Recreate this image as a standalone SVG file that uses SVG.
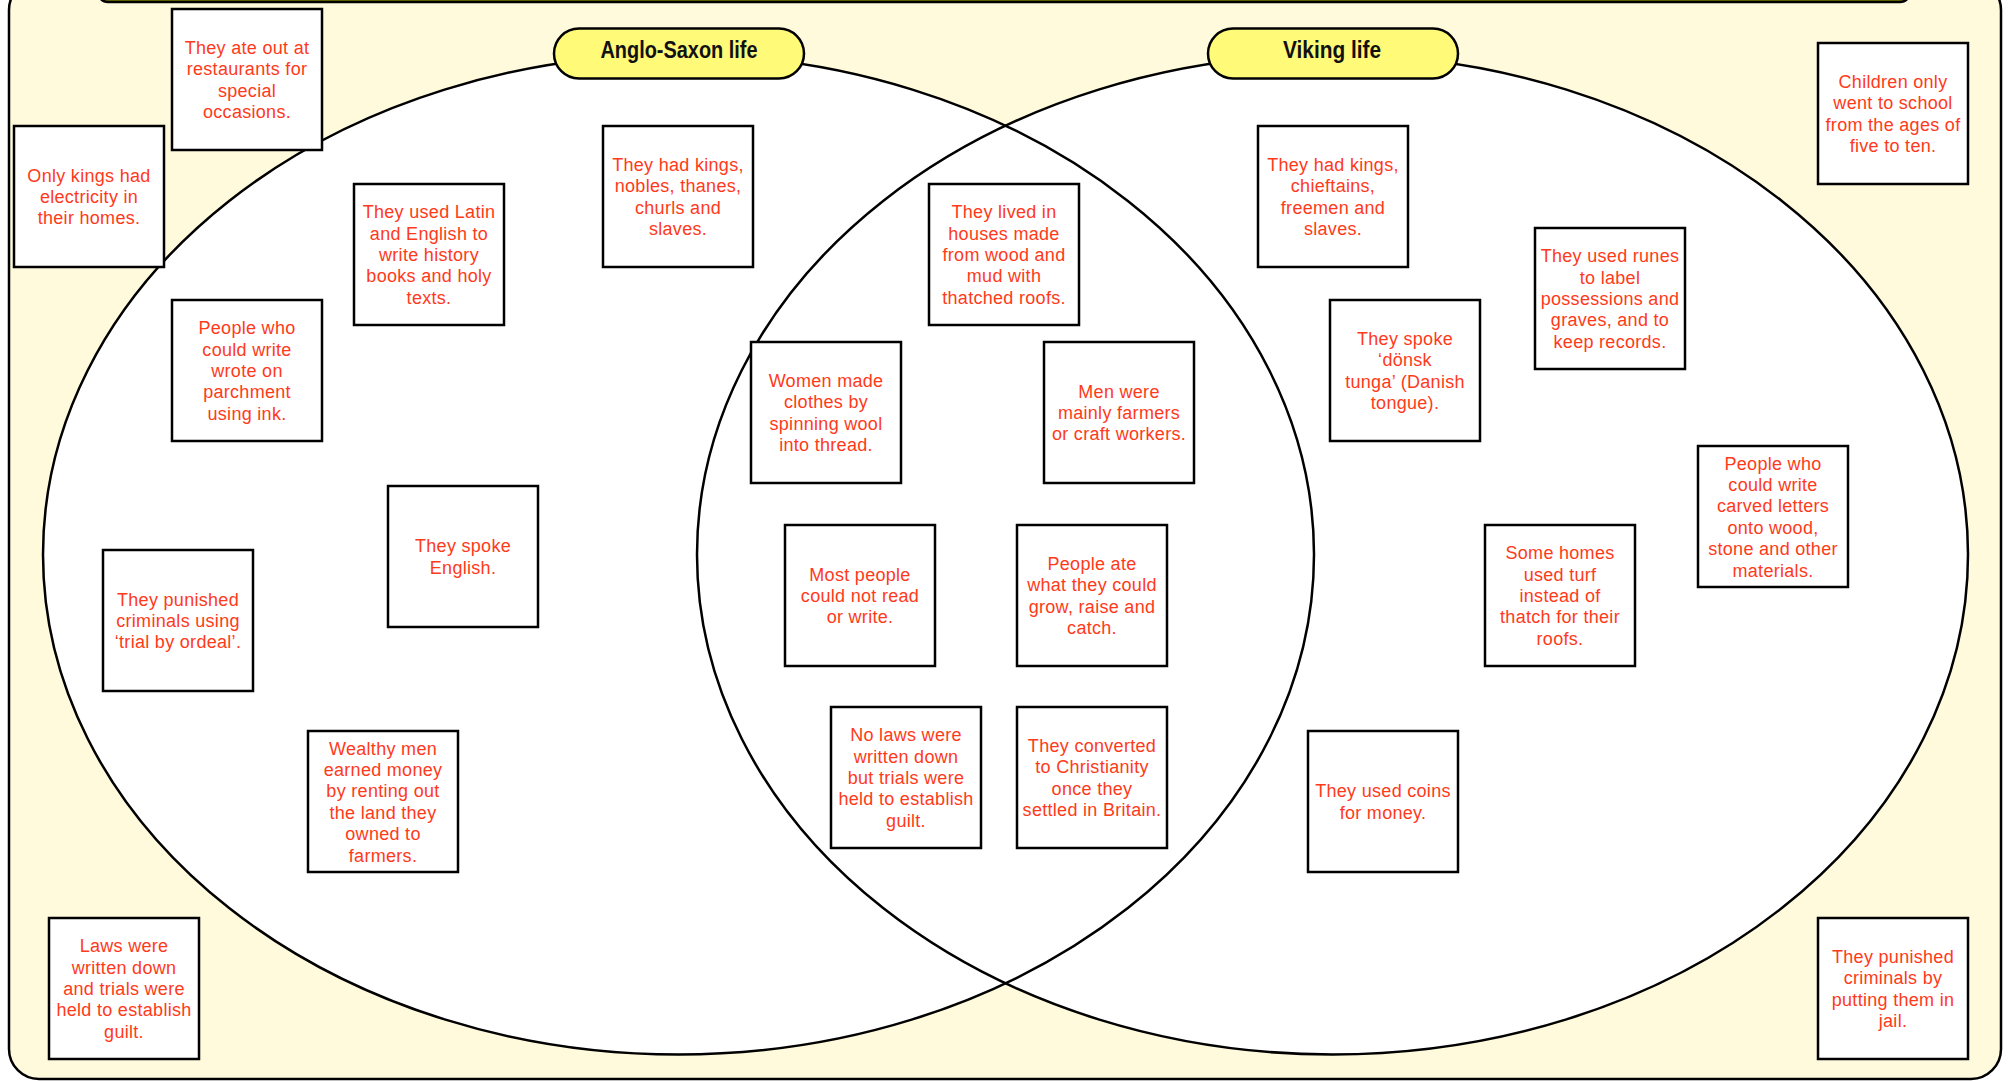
<svg xmlns="http://www.w3.org/2000/svg" width="2009" height="1081" viewBox="0 0 2009 1081">
<style>
.box{fill:#ffffff;stroke:#000000;stroke-width:2.5}
.t{font-family:"Liberation Sans",Arial,sans-serif;font-size:18px;letter-spacing:0.3px;fill:#ff3a1a;text-anchor:middle}
.pill{fill:#fffa78;stroke:#000000;stroke-width:2.5}
.pt{font-family:"Liberation Sans",Arial,sans-serif;font-weight:bold;font-size:24px;fill:#111111;text-anchor:middle}
.ell{fill:none;stroke:#000000;stroke-width:2.5}
</style>
<g id="background">
<rect x="9" y="-20" width="1992" height="1099" rx="30" ry="30" fill="#fffadc" stroke="#000000" stroke-width="2.5"/>
<rect x="98" y="-40" width="1812" height="42" rx="10" ry="10" fill="#7a7a00" stroke="#000000" stroke-width="2.5"/>
</g>
<g id="venn">
<ellipse cx="678.5" cy="554.5" rx="635.5" ry="500" fill="#ffffff"/>
<ellipse cx="1332.5" cy="554.5" rx="635.5" ry="500" fill="#ffffff"/>
<ellipse class="ell" cx="678.5" cy="554.5" rx="635.5" ry="500"/>
<ellipse class="ell" cx="1332.5" cy="554.5" rx="635.5" ry="500"/>
</g>
<g id="connectors"/>
<g id="label-anglo-saxon">
<rect class="pill" x="554" y="28.5" width="250" height="50" rx="25" ry="25"/>
<text class="pt" x="679" y="58" textLength="157" lengthAdjust="spacingAndGlyphs">Anglo-Saxon life</text>
</g>
<g id="label-viking">
<rect class="pill" x="1208" y="28.5" width="250" height="50" rx="25" ry="25"/>
<text class="pt" x="1332" y="58" textLength="98" lengthAdjust="spacingAndGlyphs">Viking life</text>
</g>
<g id="n1"><rect class="box" x="172" y="9" width="150" height="141"/><text class="t" x="247" y="53.9"><tspan x="247">They ate out at</tspan><tspan x="247" dy="21.4">restaurants for</tspan><tspan x="247" dy="21.4">special</tspan><tspan x="247" dy="21.4">occasions.</tspan></text></g>
<g id="n2"><rect class="box" x="14" y="126" width="150" height="141"/><text class="t" x="89" y="181.6"><tspan x="89">Only kings had</tspan><tspan x="89" dy="21.4">electricity in</tspan><tspan x="89" dy="21.4">their homes.</tspan></text></g>
<g id="n3"><rect class="box" x="354" y="184" width="150" height="141"/><text class="t" x="429" y="218.2"><tspan x="429">They used Latin</tspan><tspan x="429" dy="21.4">and English to</tspan><tspan x="429" dy="21.4">write history</tspan><tspan x="429" dy="21.4">books and holy</tspan><tspan x="429" dy="21.4">texts.</tspan></text></g>
<g id="n4"><rect class="box" x="603" y="126" width="150" height="141"/><text class="t" x="678" y="170.9"><tspan x="678">They had kings,</tspan><tspan x="678" dy="21.4">nobles, thanes,</tspan><tspan x="678" dy="21.4">churls and</tspan><tspan x="678" dy="21.4">slaves.</tspan></text></g>
<g id="n5"><rect class="box" x="172" y="300" width="150" height="141"/><text class="t" x="247" y="334.2"><tspan x="247">People who</tspan><tspan x="247" dy="21.4">could write</tspan><tspan x="247" dy="21.4">wrote on</tspan><tspan x="247" dy="21.4">parchment</tspan><tspan x="247" dy="21.4">using ink.</tspan></text></g>
<g id="n6"><rect class="box" x="388" y="486" width="150" height="141"/><text class="t" x="463" y="552.3"><tspan x="463">They spoke</tspan><tspan x="463" dy="21.4">English.</tspan></text></g>
<g id="n7"><rect class="box" x="103" y="550" width="150" height="141"/><text class="t" x="178" y="605.6"><tspan x="178">They punished</tspan><tspan x="178" dy="21.4">criminals using</tspan><tspan x="178" dy="21.4">‘trial by ordeal’.</tspan></text></g>
<g id="n8"><rect class="box" x="308" y="731" width="150" height="141"/><text class="t" x="383" y="754.5"><tspan x="383">Wealthy men</tspan><tspan x="383" dy="21.4">earned money</tspan><tspan x="383" dy="21.4">by renting out</tspan><tspan x="383" dy="21.4">the land they</tspan><tspan x="383" dy="21.4">owned to</tspan><tspan x="383" dy="21.4">farmers.</tspan></text></g>
<g id="n9"><rect class="box" x="49" y="918" width="150" height="141"/><text class="t" x="124" y="952.2"><tspan x="124">Laws were</tspan><tspan x="124" dy="21.4">written down</tspan><tspan x="124" dy="21.4">and trials were</tspan><tspan x="124" dy="21.4">held to establish</tspan><tspan x="124" dy="21.4">guilt.</tspan></text></g>
<g id="n10"><rect class="box" x="929" y="184" width="150" height="141"/><text class="t" x="1004" y="218.2"><tspan x="1004">They lived in</tspan><tspan x="1004" dy="21.4">houses made</tspan><tspan x="1004" dy="21.4">from wood and</tspan><tspan x="1004" dy="21.4">mud with</tspan><tspan x="1004" dy="21.4">thatched roofs.</tspan></text></g>
<g id="n11"><rect class="box" x="751" y="342" width="150" height="141"/><text class="t" x="826" y="386.9"><tspan x="826">Women made</tspan><tspan x="826" dy="21.4">clothes by</tspan><tspan x="826" dy="21.4">spinning wool</tspan><tspan x="826" dy="21.4">into thread.</tspan></text></g>
<g id="n12"><rect class="box" x="1044" y="342" width="150" height="141"/><text class="t" x="1119" y="397.6"><tspan x="1119">Men were</tspan><tspan x="1119" dy="21.4">mainly farmers</tspan><tspan x="1119" dy="21.4">or craft workers.</tspan></text></g>
<g id="n13"><rect class="box" x="785" y="525" width="150" height="141"/><text class="t" x="860" y="580.6"><tspan x="860">Most people</tspan><tspan x="860" dy="21.4">could not read</tspan><tspan x="860" dy="21.4">or write.</tspan></text></g>
<g id="n14"><rect class="box" x="1017" y="525" width="150" height="141"/><text class="t" x="1092" y="569.9"><tspan x="1092">People ate</tspan><tspan x="1092" dy="21.4">what they could</tspan><tspan x="1092" dy="21.4">grow, raise and</tspan><tspan x="1092" dy="21.4">catch.</tspan></text></g>
<g id="n15"><rect class="box" x="831" y="707" width="150" height="141"/><text class="t" x="906" y="741.2"><tspan x="906">No laws were</tspan><tspan x="906" dy="21.4">written down</tspan><tspan x="906" dy="21.4">but trials were</tspan><tspan x="906" dy="21.4">held to establish</tspan><tspan x="906" dy="21.4">guilt.</tspan></text></g>
<g id="n16"><rect class="box" x="1017" y="707" width="150" height="141"/><text class="t" x="1092" y="751.9"><tspan x="1092">They converted</tspan><tspan x="1092" dy="21.4">to Christianity</tspan><tspan x="1092" dy="21.4">once they</tspan><tspan x="1092" dy="21.4">settled in Britain.</tspan></text></g>
<g id="n17"><rect class="box" x="1258" y="126" width="150" height="141"/><text class="t" x="1333" y="170.9"><tspan x="1333">They had kings,</tspan><tspan x="1333" dy="21.4">chieftains,</tspan><tspan x="1333" dy="21.4">freemen and</tspan><tspan x="1333" dy="21.4">slaves.</tspan></text></g>
<g id="n18"><rect class="box" x="1330" y="300" width="150" height="141"/><text class="t" x="1405" y="344.9"><tspan x="1405">They spoke</tspan><tspan x="1405" dy="21.4">‘dönsk</tspan><tspan x="1405" dy="21.4">tunga’ (Danish</tspan><tspan x="1405" dy="21.4">tongue).</tspan></text></g>
<g id="n19"><rect class="box" x="1535" y="228" width="150" height="141"/><text class="t" x="1610" y="262.2"><tspan x="1610">They used runes</tspan><tspan x="1610" dy="21.4">to label</tspan><tspan x="1610" dy="21.4">possessions and</tspan><tspan x="1610" dy="21.4">graves, and to</tspan><tspan x="1610" dy="21.4">keep records.</tspan></text></g>
<g id="n20"><rect class="box" x="1818" y="43" width="150" height="141"/><text class="t" x="1893" y="87.9"><tspan x="1893">Children only</tspan><tspan x="1893" dy="21.4">went to school</tspan><tspan x="1893" dy="21.4">from the ages of</tspan><tspan x="1893" dy="21.4">five to ten.</tspan></text></g>
<g id="n21"><rect class="box" x="1698" y="446" width="150" height="141"/><text class="t" x="1773" y="469.5"><tspan x="1773">People who</tspan><tspan x="1773" dy="21.4">could write</tspan><tspan x="1773" dy="21.4">carved letters</tspan><tspan x="1773" dy="21.4">onto wood,</tspan><tspan x="1773" dy="21.4">stone and other</tspan><tspan x="1773" dy="21.4">materials.</tspan></text></g>
<g id="n22"><rect class="box" x="1485" y="525" width="150" height="141"/><text class="t" x="1560" y="559.2"><tspan x="1560">Some homes</tspan><tspan x="1560" dy="21.4">used turf</tspan><tspan x="1560" dy="21.4">instead of</tspan><tspan x="1560" dy="21.4">thatch for their</tspan><tspan x="1560" dy="21.4">roofs.</tspan></text></g>
<g id="n23"><rect class="box" x="1308" y="731" width="150" height="141"/><text class="t" x="1383" y="797.3"><tspan x="1383">They used coins</tspan><tspan x="1383" dy="21.4">for money.</tspan></text></g>
<g id="n24"><rect class="box" x="1818" y="918" width="150" height="141"/><text class="t" x="1893" y="962.9"><tspan x="1893">They punished</tspan><tspan x="1893" dy="21.4">criminals by</tspan><tspan x="1893" dy="21.4">putting them in</tspan><tspan x="1893" dy="21.4">jail.</tspan></text></g>
</svg>
